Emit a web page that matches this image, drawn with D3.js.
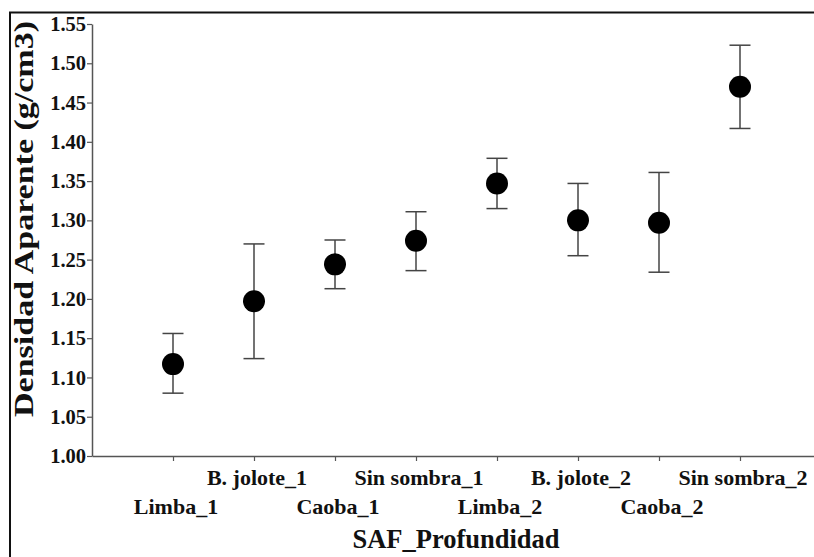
<!DOCTYPE html>
<html>
<head>
<meta charset="utf-8">
<script src="https://cdn.jsdelivr.net/npm/d3@7/dist/d3.min.js"></script>
<style>
  html, body { margin: 0; padding: 0; background: #fff; }
  svg { display: block; }
  text { font-family: "Liberation Serif", "Times New Roman", serif; font-weight: bold; fill: #111; }
</style>
</head>
<body>
<svg id="chart" width="814" height="557"></svg>
<script>
const categories = ["Limba_1", "B. jolote_1", "Caoba_1", "Sin sombra_1", "Limba_2", "B. jolote_2", "Caoba_2", "Sin sombra_2"];
const means = [1.117, 1.197, 1.244, 1.274, 1.347, 1.300, 1.297, 1.470];
const upper = [1.156, 1.270, 1.275, 1.311, 1.379, 1.347, 1.361, 1.523];
const lower = [1.080, 1.124, 1.213, 1.236, 1.315, 1.255, 1.234, 1.417];
const yTicks = [1.00, 1.05, 1.10, 1.15, 1.20, 1.25, 1.30, 1.35, 1.40, 1.45, 1.50, 1.55];

const svg = d3.select("#chart");

// outer frame
svg.append("rect")
  .attr("x", 10).attr("y", 12.5)
  .attr("width", 820).attr("height", 560)
  .attr("fill", "none").attr("stroke", "#111").attr("stroke-width", 2);

const x = d3.scalePoint().domain(categories).range([92, 821]).padding(1);
const y = d3.scaleLinear().domain([1.0, 1.55]).range([456, 24]);

// y axis
const yAxis = svg.append("g")
  .attr("transform", "translate(92,0)")
  .call(d3.axisLeft(y).tickValues(yTicks).tickFormat(d3.format(".2f")).tickSize(5).tickSizeOuter(0));
yAxis.select(".domain").attr("stroke", "#555").attr("stroke-width", 1.5);
yAxis.selectAll(".tick line").attr("stroke", "#555").attr("stroke-width", 1.2);
yAxis.selectAll(".tick text")
  .attr("x", -6)
  .style("font-size", "20.5px")
  .style("font-family", "Liberation Serif, serif")
  .style("font-weight", "bold")
  .attr("fill", "#111");

// x axis
const xAxis = svg.append("g")
  .attr("transform", "translate(0,456)")
  .call(d3.axisBottom(x).tickSize(5).tickSizeOuter(0).tickFormat(""));
xAxis.select(".domain").attr("stroke", "#555").attr("stroke-width", 1.5);
xAxis.selectAll(".tick line").attr("stroke", "#555").attr("stroke-width", 1.2);

// staggered category labels
svg.append("g").selectAll("text")
  .data(categories)
  .join("text")
  .attr("x", d => x(d) + 3)
  .attr("y", (d, i) => i % 2 === 1 ? 485 : 514)
  .attr("text-anchor", "middle")
  .style("font-size", "22px")
  .text(d => d);

// axis titles
svg.append("text")
  .attr("x", 456).attr("y", 548)
  .attr("text-anchor", "middle")
  .style("font-size", "26.5px")
  .text("SAF_Profundidad");

svg.append("text")
  .attr("transform", "translate(33,219) rotate(-90)")
  .attr("text-anchor", "middle")
  .attr("textLength", 396)
  .attr("lengthAdjust", "spacingAndGlyphs")
  .style("font-size", "27px")
  .text("Densidad Aparente (g/cm3)");

// error bars
const eb = svg.append("g").attr("stroke", "#444").attr("stroke-width", 1.5);
eb.selectAll("line.v")
  .data(categories)
  .join("line").attr("class", "v")
  .attr("x1", d => x(d)).attr("x2", d => x(d))
  .attr("y1", (d, i) => y(upper[i])).attr("y2", (d, i) => y(lower[i]));
eb.selectAll("line.t")
  .data(categories)
  .join("line").attr("class", "t")
  .attr("x1", d => x(d) - 10.5).attr("x2", d => x(d) + 10.5)
  .attr("y1", (d, i) => y(upper[i])).attr("y2", (d, i) => y(upper[i]));
eb.selectAll("line.b")
  .data(categories)
  .join("line").attr("class", "b")
  .attr("x1", d => x(d) - 10.5).attr("x2", d => x(d) + 10.5)
  .attr("y1", (d, i) => y(lower[i])).attr("y2", (d, i) => y(lower[i]));

// points
svg.append("g").selectAll("circle")
  .data(categories)
  .join("circle")
  .attr("cx", d => x(d))
  .attr("cy", (d, i) => y(means[i]))
  .attr("r", 11)
  .attr("fill", "#000");
</script>
</body>
</html>
